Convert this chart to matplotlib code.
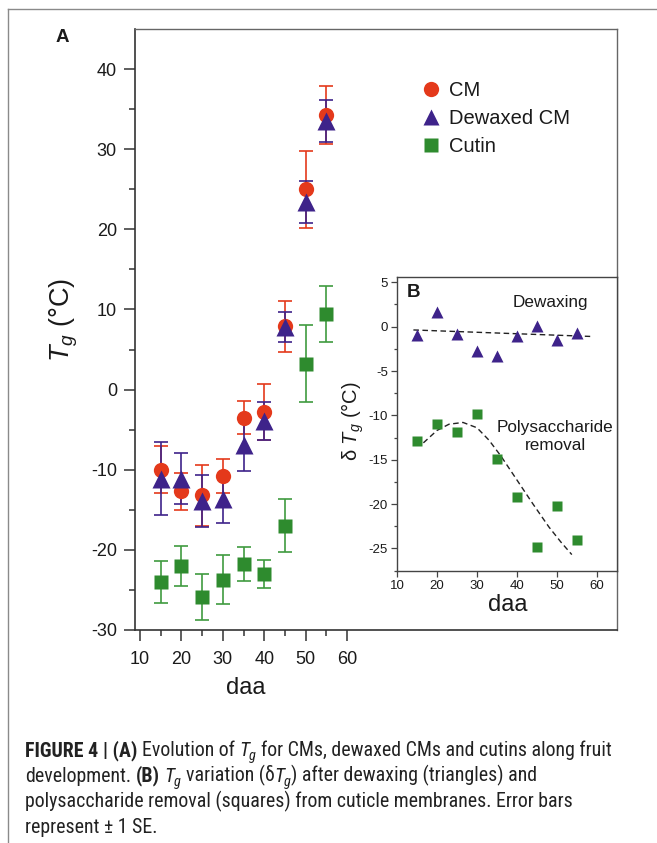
import numpy as np
import matplotlib
matplotlib.use("Agg")
import matplotlib.pyplot as plt
from matplotlib import font_manager
from matplotlib.lines import Line2D
from matplotlib.ticker import MultipleLocator

# ---------------- data ----------------
daa = [15, 20, 25, 30, 35, 40, 45, 50, 55]

cm_tg = [-10.0, -12.7, -13.2, -10.8, -3.5, -2.8, 7.9, 25.0, 34.3]
cm_err = [2.9, 2.3, 3.8, 2.1, 2.1, 3.5, 3.2, 4.8, 3.6]

dewax_tg = [-11.1, -11.1, -13.9, -13.7, -6.9, -3.9, 7.8, 23.4, 33.5]
dewax_err = [4.5, 3.2, 3.2, 2.9, 3.2, 2.4, 1.9, 2.6, 2.6]

cutin_tg = [-24.0, -22.0, -25.9, -23.7, -21.8, -23.0, -17.0, 3.2, 9.4]
cutin_err = [2.6, 2.5, 2.9, 3.0, 2.1, 1.75, 3.3, 4.8, 3.5]

# inset B: variation of Tg
delta_dewax = [-0.9, 1.7, -0.8, -2.8, -3.3, -1.0, 0.1, -1.5, -0.7]
delta_poly = [-12.9, -11.0, -11.9, -9.85, -14.95, -19.2, -24.9, -20.2, -24.1]

# dashed trend lines as drawn in the reference
dewax_fit_x = [14.1, 58.3]
dewax_fit_y = [-0.37, -1.1]
poly_fit_x = [16.6, 20, 23, 26.5, 30, 33, 36, 40, 44, 48, 51, 53.7]
poly_fit_y = [-13.1, -11.7, -11.0, -10.8, -11.4, -12.8, -14.6, -17.3, -20.0, -22.6, -24.3, -25.7]

main_xticks = [10, 20, 30, 40, 50, 60]
main_yticks = [-30, -20, -10, 0, 10, 20, 30, 40]
inset_xticks = [10, 20, 30, 40, 50, 60]
inset_yticks = [-25, -20, -15, -10, -5, 0, 5]

legend_labels = ["CM", "Dewaxed CM", "Cutin"]

caption_lines = [
    [("FIGURE 4 | (A)", "b", False), ("Evolution of", "r", True), ("T", "i", True),
     ("g", "sub", False), ("for CMs, dewaxed CMs and cutins along fruit", "r", True)],
    [("development.", "r", False), ("(B)", "b", True), ("T", "i", True), ("g", "sub", False),
     ("variation (δ", "r", True), ("T", "i", False), ("g", "sub", False),
     (") after dewaxing (triangles) and", "r", False)],
    [("polysaccharide removal (squares) from cuticle membranes. Error bars", "r", False)],
    [("represent ± 1 SE.", "r", False)],
]

# ---------------- fonts ----------------
names = {f.name for f in font_manager.fontManager.ttflist}
BASE = "Liberation Sans" if "Liberation Sans" in names else "DejaVu Sans"
NARROW = BASE
for cand in ["Liberation Sans Narrow", "Roboto Condensed", "Open Sans Condensed",
             "Noto Sans Condensed", "Roboto", "DejaVu Sans Condensed"]:
    if cand in names:
        NARROW = cand
        break

plt.rcParams["font.family"] = [BASE, "DejaVu Sans"]
plt.rcParams["axes.unicode_minus"] = False
plt.rcParams["mathtext.fontset"] = "custom"
plt.rcParams["mathtext.rm"] = BASE
plt.rcParams["mathtext.it"] = BASE + ":italic"
plt.rcParams["mathtext.bf"] = BASE + ":bold"

RED = "#E4391B"
PURPLE = "#3E238A"
GREEN = "#2E8B2E"
TXT = "#1a1a1a"

W, H = 657, 843
fig = plt.figure(figsize=(W / 100, H / 100), dpi=100)
fig.patch.set_facecolor("white")


def fx(px):
    return px / W


def fy(py):
    return 1 - py / H


# outer panel border (top and left)
fig.add_artist(Line2D([fx(8), 1.0], [fy(9), fy(9)], transform=fig.transFigure,
                      color="#8a8a8a", lw=1.0))
fig.add_artist(Line2D([fx(8), fx(8)], [fy(9), 0.0], transform=fig.transFigure,
                      color="#8a8a8a", lw=1.0))

# ---------------- main panel A ----------------
ax = fig.add_axes([fx(135), fy(630), fx(617) - fx(135), fy(29) - fy(630)])
ax.set_xlim(8.79, 125.2)
ax.set_ylim(-30, 45)
ax.set_xticks(main_xticks)
ax.set_xticks([15, 25, 35, 45, 55], minor=True)
ax.set_yticks(main_yticks)
ax.set_yticks([-25, -15, -5, 5, 15, 25, 35], minor=True)
for s in ["left", "bottom"]:
    ax.spines[s].set_color("#333333")
    ax.spines[s].set_linewidth(1.2)
for s in ["top", "right"]:
    ax.spines[s].set_color("#666666")
    ax.spines[s].set_linewidth(1.0)
ax.tick_params(which="both", direction="out", top=False, right=False,
               color="#333333", width=1.1, labelcolor=TXT)
ax.tick_params(which="major", length=8, labelsize=13, pad=5)
ax.tick_params(axis="x", which="major", pad=7)
ax.tick_params(which="minor", length=4)

eb_kw = dict(capsize=5, elinewidth=1.2, capthick=1.2, linestyle="none")
ax.errorbar(daa, cm_tg, yerr=cm_err, fmt="o", color=RED, ms=11, mec="none", **eb_kw)
ax.errorbar(daa, dewax_tg, yerr=dewax_err, fmt="^", color=PURPLE, ms=12.5, mec="none", **eb_kw)
ax.errorbar(daa, cutin_tg, yerr=cutin_err, fmt="s", color=GREEN, ecolor="#3F9B3F",
            ms=10, mec="none", **eb_kw)

handles = [
    Line2D([], [], marker="o", ls="none", color=RED, ms=11, mec="none"),
    Line2D([], [], marker="^", ls="none", color=PURPLE, ms=12, mec="none"),
    Line2D([], [], marker="s", ls="none", color=GREEN, ms=10, mec="none"),
]
leg = ax.legend(handles, legend_labels, loc="upper left",
                bbox_to_anchor=(fx(421), fy(81)), bbox_transform=fig.transFigure,
                frameon=False, fontsize=14.5, handlelength=1.0, handletextpad=0.4,
                labelspacing=0.45, borderpad=0, borderaxespad=0)
for t in leg.get_texts():
    t.set_color(TXT)

fig.text(fx(62), fy(38), "A", fontsize=13.5, weight="bold", ha="center", va="center", color=TXT)
fig.text(fx(64), fy(320), r"$T_g$ (°C)", rotation=90, fontsize=19.5, ha="center",
         va="center", color=TXT)
fig.text(fx(246), fy(688), "daa", fontsize=17, ha="center", va="center", color=TXT)

# ---------------- inset panel B ----------------
axi = fig.add_axes([fx(397), fy(571), fx(617) - fx(397), fy(277) - fy(571)], zorder=5)
axi.set_facecolor("white")
axi.set_xlim(10, 65)
axi.set_ylim(-27.55, 5.6)
axi.set_xticks(inset_xticks)
axi.set_yticks(inset_yticks)
axi.yaxis.set_minor_locator(MultipleLocator(2.5))
for s in axi.spines.values():
    s.set_color("#444444")
    s.set_linewidth(1.0)
axi.tick_params(which="both", direction="out", top=False, right=False,
                color="#444444", width=0.9, labelcolor=TXT)
axi.tick_params(which="major", length=4, labelsize=9.5, pad=2.5)
axi.tick_params(which="minor", length=2.5)

axi.plot(dewax_fit_x, dewax_fit_y, color="#222222", lw=1.0, dashes=(4, 2.5))
axi.plot(poly_fit_x, poly_fit_y, color="#222222", lw=1.0, dashes=(4, 2.5))
axi.plot(daa, delta_dewax, "^", color=PURPLE, ms=8, mec="none", ls="none")
axi.plot(daa, delta_poly, "s", color=GREEN, ms=7, mec="none", ls="none")

axi.text(48.25, 2.67, "Dewaxing", fontsize=12.3, ha="center", va="center", color=TXT)
axi.text(49.5, -12.4, "Polysaccharide\nremoval", fontsize=12.3, ha="center", va="center",
         color=TXT, linespacing=1.2)
axi.text(14.0, 3.8, "B", fontsize=13.5, weight="bold", ha="center", va="center", color=TXT)

fig.text(fx(353), fy(421), r"δ $T_g$ (°C)", rotation=90, fontsize=14.5, ha="center",
         va="center", color=TXT)
fig.text(fx(508), fy(605), "daa", fontsize=17, ha="center", va="center", color=TXT)

# ---------------- caption ----------------
renderer = fig.canvas.get_renderer()
CAP_COLOR = "#222222"


def width_of(txt, size, **kw):
    t = fig.text(0, 0, txt, fontsize=size, family=NARROW, **kw)
    w = t.get_window_extent(renderer).width
    t.remove()
    return w


def draw_line(segs, x0, ybase, size):
    sp = width_of("a a", size) - width_of("aa", size)
    x = x0
    arts = []
    for txt, st, spb in segs:
        if spb:
            x += sp
        kw = dict(family=NARROW, fontsize=size, color=CAP_COLOR)
        dy = 0.0
        if st == "b":
            kw["weight"] = "bold"
        elif st == "i":
            kw["style"] = "italic"
        elif st == "sub":
            kw["style"] = "italic"
            kw["fontsize"] = size * 0.72
            dy = size * 0.22 * 100 / 72
        t = fig.text(fx(x), fy(ybase + dy), txt, ha="left", va="baseline", **kw)
        x += t.get_window_extent(renderer).width
        arts.append(t)
    return arts, x - x0


size0 = 12.7
arts, w0 = draw_line(caption_lines[0], 25, 756, size0)
for a in arts:
    a.remove()
cap_size = min(size0 * 615.0 / w0, 14.3)
for i, segs in enumerate(caption_lines):
    draw_line(segs, 25, 756 + 25.6 * i, cap_size)

fig.savefig("out.png", dpi=100, facecolor="white")
